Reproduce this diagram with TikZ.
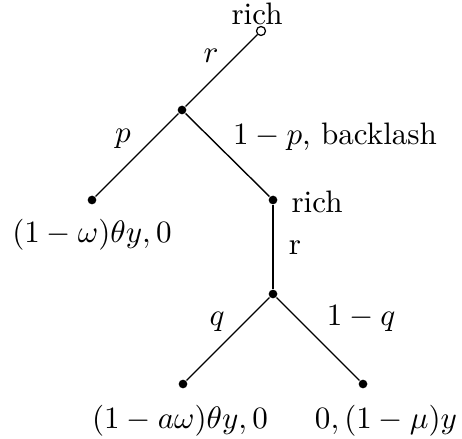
\documentclass[tikz,border=0pt]{standalone}
\usepackage{amsmath,amssymb}
\usepackage{xcolor}
\usepackage{tikz}
\usetikzlibrary{positioning}

\begin{document}
\begin{tikzpicture}[
  x=0.322pt, y=-0.322pt,
  dot/.style={circle, fill=black, inner sep=0pt, minimum size=2.8pt},
  opendot/.style={circle, draw=black, fill=white, inner sep=0pt, minimum size=2.9pt, line width=0.4pt},
  lbl/.style={anchor=base, inner sep=0pt},
  branch/.style={draw=black, line width=0.45pt}
]
\useasboundingbox (0,0) rectangle (462,439);
% decision nodes
\node[opendot] (root) at (261,31) {};
\node[dot] (n1) at (182,110) {};
\node[dot] (leafa) at (92,200) {};
\node[dot] (n2) at (273,200) {};
\node[dot] (n3) at (273,294) {};
\node[dot] (leafb) at (183,384) {};
\node[dot] (leafc) at (363,384) {};
% branches
\draw[branch] (root) -- (n1);
\draw[branch] (n1) -- (leafa);
\draw[branch] (n1) -- (n2);
\draw[branch] (n2) -- (n3);
\draw[branch] (n3) -- (leafb);
\draw[branch] (n3) -- (leafc);
% labels
\node[lbl] (richtop) at (257,25) {rich};
\node[lbl] (rone) at (211,63) {$r$};
\node[lbl] (pl) at (123,143) {$p$};
\node[lbl] (backl) at (335,145) {$1-p$, backlash};
\node[lbl] (richmid) at (317,213) {rich};
\node[lbl] (paya) at (92,243) {$(1-\omega)\theta y, 0$};
\node[lbl] (rtwo) at (295,255) {r};
\node[lbl] (ql) at (217,326) {$q$};
\node[lbl] (qr) at (361,326) {$1-q$};
\node[lbl] (payb) at (180,428) {$(1-a\omega)\theta y, 0$};
\node[lbl] (payc) at (386,428) {$0, (1-\mu)y$};
\end{tikzpicture}
\end{document}
